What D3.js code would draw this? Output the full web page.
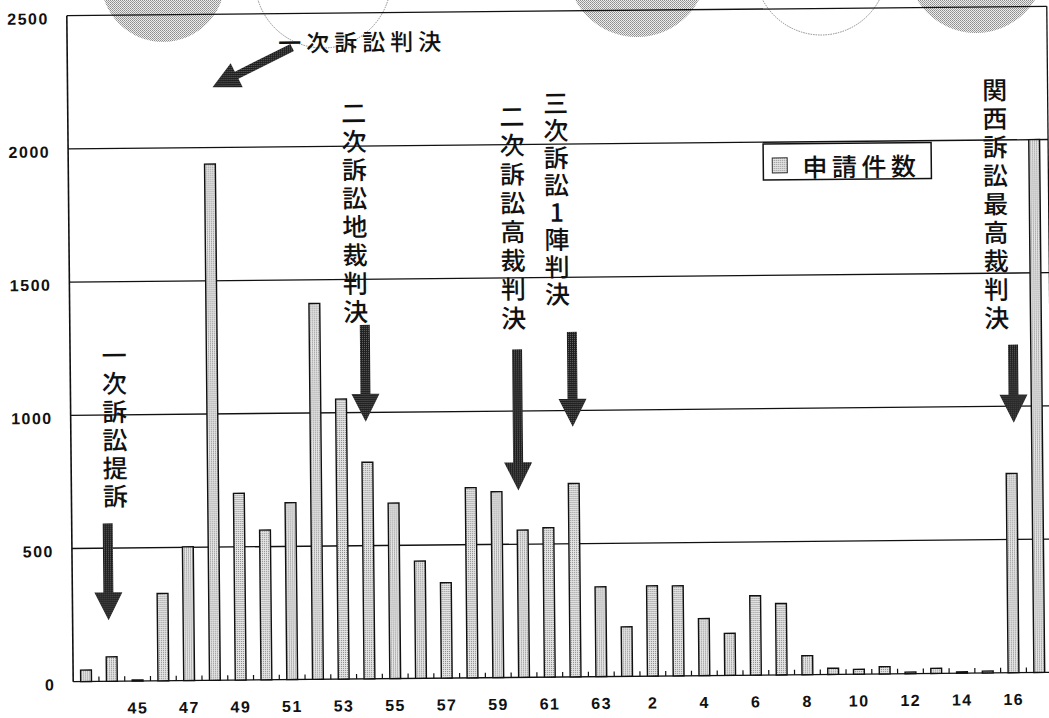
<!DOCTYPE html>
<html>
<head>
<meta charset="utf-8">
<script src="https://cdn.jsdelivr.net/npm/d3@7"></script>
<style>
  html, body { margin: 0; padding: 0; background: #fff; }
  svg { display: block; }
  .vert { writing-mode: vertical-rl; text-orientation: upright; }
</style>
</head>
<body>
<svg id="chart" width="1049" height="718"></svg>
<script>
// 年度（昭和43〜63年、平成元〜17年）
const years = [
  "43","44","45","46","47","48","49","50","51","52","53","54","55","56","57","58","59","60","61","62","63",
  "1","2","3","4","5","6","7","8","9","10","11","12","13","14","15","16","17"
];
// 申請件数
const applications = [
  43, 92, 4, 328, 502, 1938, 701, 562, 664, 1411, 1051, 813, 659, 440, 358, 714, 698, 553, 561, 726, 337,
  186, 339, 338, 214, 158, 298, 268, 71, 23, 18, 27, 6, 19, 5, 7, 748, 2000
];
const seriesName = "申請件数";
const yTicks = [0, 500, 1000, 1500, 2000, 2500];
const xTickLabels = ["45","47","49","51","53","55","57","59","61","63","2","4","6","8","10","12","14","16"];

// 出来事の注記
const verticalEvents = ["一次訴訟提訴", "二次訴訟地裁判決", "二次訴訟高裁判決", "三次訴訟1陣判決", "関西訴訟最高裁判決"];
const topEvent = "一次訴訟判決";

const svg = d3.select("#chart");
const defs = svg.append("defs");

// stippled fills
function stipple(id, bg, dot) {
  const p = defs.append("pattern").attr("id", id)
    .attr("patternUnits", "userSpaceOnUse").attr("width", 2).attr("height", 2);
  p.append("rect").attr("width", 2).attr("height", 2).attr("fill", bg);
  p.append("rect").attr("width", 1).attr("height", 1).attr("fill", dot);
}
stipple("barFill", "#e6e6e6", "#858585");
stipple("arrowFill", "#1c1c1c", "#6e6e6e");
{
  const p = defs.append("pattern").attr("id", "discFill")
    .attr("patternUnits", "userSpaceOnUse").attr("width", 2).attr("height", 2);
  p.append("rect").attr("width", 2).attr("height", 2).attr("fill", "#ededed");
  p.append("rect").attr("width", 1).attr("height", 1).attr("fill", "#8c8c8c");
  p.append("rect").attr("x", 1).attr("y", 1).attr("width", 1).attr("height", 1).attr("fill", "#a0a0a0");
}

// decorative discs along the top edge
const deco = svg.append("g");
[[163, -20, 62, true], [323, -20, 68, false], [637, -33, 70, true], [821, -31, 66, false], [976, -36, 69, true]]
  .forEach(([cx, cy, r, filled]) => {
    const c = deco.append("circle").attr("cx", cx).attr("cy", cy).attr("r", r);
    if (filled) c.attr("fill", "url(#discFill)");
    else c.attr("fill", "none").attr("stroke", "#8a8a8a").attr("stroke-width", 1).attr("stroke-dasharray", "1.5,1");
  });

// whole chart sits slightly tilted
const g = svg.append("g").attr("transform", "rotate(-0.55,558,345)");

const plotLeft = 70, plotRight = 1050, plotTop = 11, plotBase = 677;
const x = d3.scaleBand().domain(years).range([plotLeft, 1049]).paddingInner(0.58).paddingOuter(0.29);
const y = d3.scaleLinear().domain([0, 2500]).range([plotBase, plotTop]);

// gridlines and frame
g.append("g").selectAll("line").data(yTicks).join("line")
  .attr("x1", plotLeft).attr("x2", plotRight)
  .attr("y1", d => y(d)).attr("y2", d => y(d))
  .attr("stroke", "#111").attr("stroke-width", 1.3);
g.append("line").attr("x1", plotLeft).attr("x2", plotLeft).attr("y1", plotTop).attr("y2", plotBase)
  .attr("stroke", "#111").attr("stroke-width", 1.6);
g.append("line").attr("x1", plotRight).attr("x2", plotRight).attr("y1", plotTop).attr("y2", plotBase)
  .attr("stroke", "#111").attr("stroke-width", 1.3);

// small ticks between categories
const step = x.step();
g.append("g").selectAll("line").data(years.slice(0, -1)).join("line")
  .attr("x1", d => x(d) + x.bandwidth() / 2 + step / 2)
  .attr("x2", d => x(d) + x.bandwidth() / 2 + step / 2)
  .attr("y1", plotBase).attr("y2", plotBase - 5)
  .attr("stroke", "#111").attr("stroke-width", 1.2);

// bars
g.append("g").selectAll("rect").data(years).join("rect")
  .attr("x", d => x(d))
  .attr("width", x.bandwidth())
  .attr("y", (d, i) => y(applications[i]))
  .attr("height", (d, i) => y(0) - y(applications[i]))
  .attr("fill", "url(#barFill)")
  .attr("stroke", "#111").attr("stroke-width", 1.4);

// axes
const tickFont = "'Liberation Sans', Arial, sans-serif";
const yAxis = g.append("g").attr("transform", `translate(${plotLeft},0)`)
  .call(d3.axisLeft(y).tickValues(yTicks).tickSize(0).tickPadding(18).tickFormat(d3.format("d")));
yAxis.select(".domain").remove();
yAxis.selectAll("text").attr("font-family", tickFont).attr("font-size", 16).attr("font-weight", "bold")
  .attr("letter-spacing", "1.5px").attr("dy", "0.5em").attr("fill", "#111");

const xAxis = g.append("g").attr("transform", `translate(0,${plotBase})`)
  .call(d3.axisBottom(x).tickValues(xTickLabels).tickSize(0).tickPadding(21));
xAxis.select(".domain").remove();
xAxis.selectAll("text").attr("font-family", tickFont).attr("font-size", 16).attr("font-weight", "bold")
  .attr("letter-spacing", "1.5px").attr("fill", "#111");

// legend
const jpFont = "'Noto Sans CJK JP', sans-serif";
const legend = g.append("g");
legend.append("rect").attr("x", 765).attr("y", 146).attr("width", 168).attr("height", 36)
  .attr("fill", "#fff").attr("stroke", "#111").attr("stroke-width", 1.5);
legend.append("rect").attr("x", 774).attr("y", 160).attr("width", 15).attr("height", 15)
  .attr("fill", "url(#barFill)").attr("stroke", "#333").attr("stroke-width", 1);
legend.append("text").attr("x", 804).attr("y", 168).attr("dominant-baseline", "central")
  .attr("font-family", jpFont).attr("font-size", 25).attr("font-weight", 500)
  .attr("letter-spacing", "4.5px").attr("fill", "#111").text(seriesName);

// annotations
function arrowPath(x1, y1, x2, y2, sw, hw, hl) {
  const dx = x2 - x1, dy = y2 - y1, L = Math.hypot(dx, dy);
  const ux = dx / L, uy = dy / L, px = -uy, py = ux;
  const bx = x2 - ux * hl, by = y2 - uy * hl;
  const pts = [
    [x1 + px * sw / 2, y1 + py * sw / 2],
    [bx + px * sw / 2, by + py * sw / 2],
    [bx + px * hw / 2, by + py * hw / 2],
    [x2, y2],
    [bx - px * hw / 2, by - py * hw / 2],
    [bx - px * sw / 2, by - py * sw / 2],
    [x1 - px * sw / 2, y1 - py * sw / 2]
  ];
  return "M" + pts.map(p => p.join(",")).join("L") + "Z";
}

// first-character centre (x, y0), character pitch, and arrow below
const verticalLayout = [
  { x: 114, y0: 351, pitch: 28.2, ax: 106, atop: 519, atip: 616 },
  { x: 356, y0: 111, pitch: 28.4, ax: 365, atop: 323, atip: 420 },
  { x: 514, y0: 116, pitch: 28.8, ax: 517, atop: 349, atip: 490 },
  { x: 558, y0: 103, pitch: 27.3, ax: 572, atop: 332, atip: 427 },
  { x: 997, y0: 94,  pitch: 28.5, ax: 1013, atop: 349, atip: 427 }
];
const vSize = 25;

const ann = g.append("g");
verticalEvents.forEach((label, k) => {
  const L = verticalLayout[k];
  ann.append("text").attr("class", "vert")
    .attr("x", L.x).attr("y", L.y0 - vSize / 2)
    .attr("font-family", jpFont).attr("font-size", vSize).attr("font-weight", 500)
    .attr("letter-spacing", `${L.pitch - vSize}px`)
    .attr("fill", "#111").text(label);
  ann.append("path").attr("d", arrowPath(L.ax, L.atop, L.ax, L.atip, 10, 28, 28))
    .attr("fill", "url(#arrowFill)");
});

ann.append("text").attr("x", 281).attr("y", 39).attr("dominant-baseline", "central")
  .attr("font-family", jpFont).attr("font-size", 23).attr("font-weight", 500).attr("letter-spacing", "5px")
  .attr("fill", "#111").text(topEvent);
ann.append("path").attr("d", arrowPath(295, 45, 215, 84, 8, 27, 27)).attr("fill", "url(#arrowFill)");
</script>
</body>
</html>
